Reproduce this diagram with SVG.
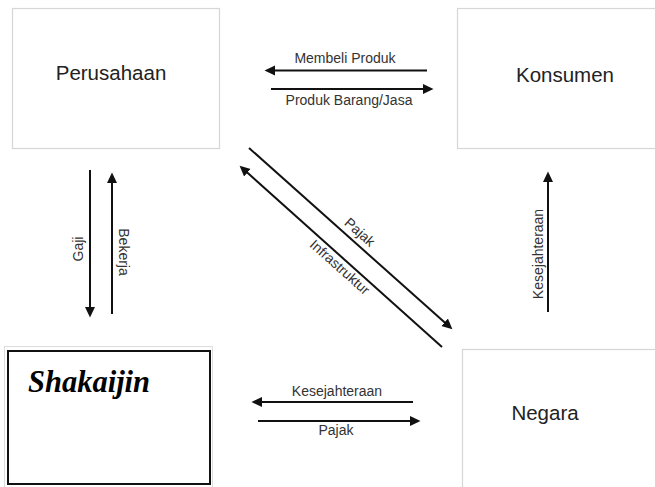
<svg xmlns="http://www.w3.org/2000/svg" width="655" height="487" viewBox="0 0 655 487">
<style>
.box{fill:#fff;stroke:#d6d6d6;stroke-width:1.2}
.name{font-family:"Liberation Sans",Arial,sans-serif;font-size:20.5px;fill:#222;text-anchor:middle}
.lbl{font-family:"Liberation Sans",Arial,sans-serif;font-size:14px;fill:#333;text-anchor:middle}
.ar{stroke:#111;stroke-width:2;fill:none;marker-end:url(#ah)}
</style>
<defs>
<marker id="ah" markerUnits="userSpaceOnUse" markerWidth="11" markerHeight="11" refX="7" refY="5" orient="auto" viewBox="0 0 11 10">
<path d="M0,0 L10.5,5 L0,10 z" fill="#111"/>
</marker>
</defs>
<rect width="655" height="487" fill="#fff"/>
<g id="perusahaan">
<rect class="box" x="12.5" y="8.5" width="207" height="140"/>
<text class="name" x="111" y="80">Perusahaan</text>
</g>
<g id="konsumen">
<rect class="box" x="457.5" y="8.5" width="210" height="140"/>
<text class="name" x="565" y="82">Konsumen</text>
</g>
<g id="shakaijin">
<rect x="4.5" y="346.5" width="208" height="150" fill="#fff" stroke="#dcdcdc" stroke-width="1"/>
<rect x="8" y="351" width="202" height="133" fill="#fff" stroke="#111" stroke-width="2"/>
<text x="28" y="392" font-family="'Liberation Serif','Times New Roman',serif" font-size="30.5" font-weight="bold" font-style="italic" fill="#000">Shakaijin</text>
</g>
<g id="negara">
<rect class="box" x="462.5" y="349.5" width="210" height="150"/>
<text class="name" x="545" y="420">Negara</text>
</g>
<g id="connectors">
<line class="ar" x1="427" y1="70.5" x2="268" y2="70.5"/>
<text class="lbl" x="345" y="63">Membeli Produk</text>
<line class="ar" x1="271" y1="89" x2="430" y2="89"/>
<text class="lbl" x="349" y="105">Produk Barang/Jasa</text>
<line class="ar" x1="90" y1="170" x2="90" y2="314"/>
<text class="lbl" transform="translate(83,249) rotate(-90)" x="0" y="0">Gaji</text>
<line class="ar" x1="112" y1="314" x2="112" y2="176"/>
<text class="lbl" transform="translate(119,252) rotate(90)" x="0" y="0">Bekerja</text>
<line class="ar" x1="249" y1="148" x2="449.8" y2="327"/>
<text class="lbl" transform="translate(360,232) rotate(41.7)" x="0" y="5">Pajak</text>
<line class="ar" x1="442" y1="347" x2="242.2" y2="168"/>
<text class="lbl" transform="translate(340,267) rotate(41.7)" x="0" y="5">Infrastruktur</text>
<line class="ar" x1="548" y1="312" x2="548" y2="175"/>
<text class="lbl" transform="translate(543,254) rotate(-90)" x="0" y="0">Kesejahteraan</text>
<line class="ar" x1="413" y1="402" x2="255" y2="402"/>
<text class="lbl" x="337" y="396">Kesejahteraan</text>
<line class="ar" x1="258" y1="421" x2="417" y2="421"/>
<text class="lbl" x="336" y="435">Pajak</text>
</g>
</svg>
